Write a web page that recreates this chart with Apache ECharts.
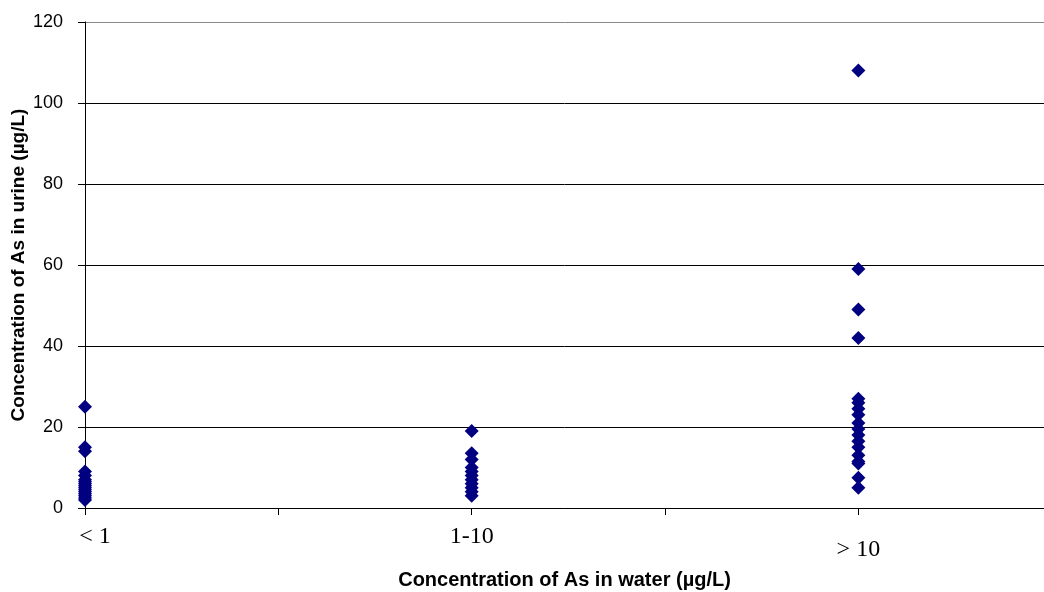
<!DOCTYPE html>
<html>
<head>
<meta charset="utf-8">
<script src="https://cdn.jsdelivr.net/npm/echarts@6/dist/echarts.min.js"></script>
<style>
  html, body { margin: 0; padding: 0; background: #fff; }
  #chart { width: 1044px; height: 592px; }
</style>
</head>
<body>
<div id="chart"></div>
<script>
// Water arsenic groups (x positions 0, 1, 2 on the axis)
const waterGroups = ['< 1', '1-10', '> 10'];

// Urine arsenic concentrations (µg/L) for each water group
const urineLow = [25, 15, 14, 9, 8, 7, 6.5, 6, 5.5, 5, 4.5, 4, 3.5, 3, 2.5, 2];
const urineMid = [19, 13.5, 12, 10, 9, 8, 7, 6, 5, 4, 3];
const urineHigh = [108, 59, 49, 42, 27, 26, 24.5, 23, 21, 19.5, 18, 16.5, 15, 13, 11.5, 11, 7.5, 5];

const yTicks = [0, 20, 40, 60, 80, 100, 120];

const groups = [urineLow, urineMid, urineHigh];
const points = [];
groups.forEach(function (vals, gi) {
  vals.forEach(function (v) { points.push([gi, v]); });
});

const chart = echarts.init(document.getElementById('chart'));
chart.setOption({
  animation: false,
  backgroundColor: '#fff',
  grid: { left: 85, top: 22, right: 0, bottom: 84, containLabel: false, outerBoundsMode: 'none' },
  xAxis: {
    type: 'value',
    min: 0,
    max: 2.48,
    interval: 0.5,
    name: 'Concentration of As in water (µg/L)',
    nameLocation: 'middle',
    nameGap: 62,
    nameMoveOverlap: false,
    nameTextStyle: { fontFamily: 'Liberation Sans', fontWeight: 'bold', fontSize: 20, color: '#000' },
    axisLine: { lineStyle: { color: '#000', width: 1 } },
    axisTick: { length: 7, lineStyle: { color: '#000' } },
    splitLine: { show: false },
    axisLabel: {
      margin: 17,
      showMaxLabel: false,
      formatter: function (v) {
        const i = Math.round(v);
        if (Math.abs(v - i) > 1e-6 || i < 0 || i >= waterGroups.length) return '';
        const style = i === 0 ? 'first' : (i === 2 ? 'low' : 'n');
        return '{' + style + '|' + waterGroups[i] + '}';
      },
      rich: {
        first: { fontFamily: 'Liberation Serif', fontSize: 24, color: '#000', padding: [0, 0, 0, 20] },
        n: { fontFamily: 'Liberation Serif', fontSize: 24, color: '#000' },
        low: { fontFamily: 'Liberation Serif', fontSize: 24, color: '#000', padding: [13, 0, 0, 0] }
      }
    }
  },
  yAxis: {
    type: 'value',
    min: yTicks[0],
    max: yTicks[yTicks.length - 1],
    interval: 20,
    name: 'Concentration of As in urine (µg/L)',
    nameLocation: 'middle',
    nameGap: 57,
    nameMoveOverlap: false,
    nameTextStyle: { fontFamily: 'Liberation Sans', fontWeight: 'bold', fontSize: 19, color: '#000' },
    axisLine: { show: true, lineStyle: { color: '#000', width: 1 } },
    axisTick: { show: true, length: 7, lineStyle: { color: '#000' } },
    axisLabel: { margin: 22, fontFamily: 'Liberation Sans', fontSize: 18, color: '#000' },
    splitLine: {
      show: true,
      lineStyle: { color: ['#000', '#000', '#000', '#000', '#000', '#000', '#888'], width: 1 }
    }
  },
  series: [{
    type: 'scatter',
    symbol: 'diamond',
    symbolSize: 14,
    itemStyle: { color: '#000080', opacity: 1 },
    data: points
  }]
});
</script>
</body>
</html>
